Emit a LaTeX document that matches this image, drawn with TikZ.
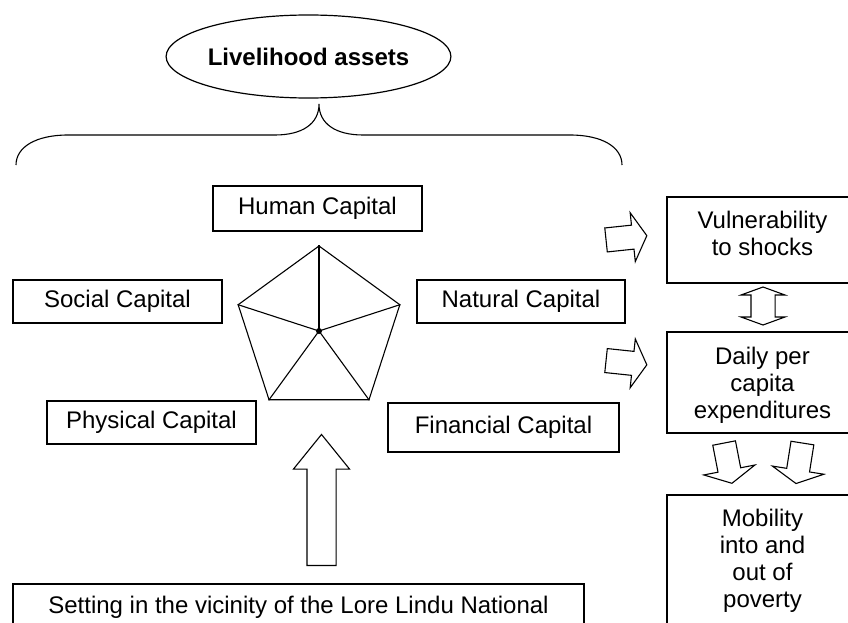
\documentclass[tikz,border=0pt]{standalone}
\usepackage{fontspec}
\setmainfont{Liberation Sans}
\usetikzlibrary{shapes.geometric,shapes.arrows}
\begin{document}
\begin{tikzpicture}[x=1pt,y=-1pt,
  every node/.style={font=\fontsize{24}{27}\selectfont},
  box/.style={draw, line width=1.2pt, inner sep=0pt, align=center},
  txt/.style={align=center, inner sep=0pt},
  blockarrow/.style={single arrow, draw, line width=1.1pt, inner xsep=0pt, fill=white, anchor=tail},
  rarrow/.style={blockarrow, minimum height=41, inner ysep=11.5pt, single arrow head extend=12.5pt, single arrow tip angle=120},
  darrow/.style={blockarrow, minimum height=41, inner ysep=11pt, single arrow head extend=14.5pt, single arrow tip angle=125},
  line/.style={line width=1.1pt}
]
\path[use as bounding box] (0,0) rectangle (848,623);
\clip (0,0) rectangle (848,623);

\node[ellipse, draw, line width=1.2pt, minimum width=283, minimum height=83, inner sep=0pt, font=\bfseries\fontsize{24}{27}\selectfont] (la) at (308.5,56.5) {Livelihood assets};

\draw[line] (16,165) .. controls (16,147) and (36,135) .. (68,135) -- (275,135) .. controls (302,135) and (319,124) .. (319,104) .. controls (319,124) and (336,135) .. (363,135) -- (570,135) .. controls (602,135) and (622,147) .. (622,165);

\node[box, minimum width=209, minimum height=45] (hc) at (317.5,208.5) {Human Capital};
\node[box, minimum width=209, minimum height=43] (sc) at (117.5,301.5) {Social Capital};
\node[box, minimum width=208, minimum height=43] (nc) at (521,301.5) {Natural Capital};
\node[box, minimum width=209, minimum height=43] (pc) at (151.5,422.5) {Physical Capital};
\node[box, minimum width=231, minimum height=49] (fc) at (503.5,427.5) {Financial Capital};

\node[box, minimum width=191, minimum height=86] (vs) at (762.5,240) {};
\node[txt] (vst) at (762.5,233.5) {Vulnerability\\to shocks};
\node[box, minimum width=191, minimum height=101] (dp) at (762.5,382.5) {};
\node[txt] (dpt) at (762.5,385) {Daily per\\capita\\expenditures};
\node[box, minimum width=191, minimum height=133] (mp) at (762.5,561.5) {};
\node[txt] (mpt) at (762.5,561) {Mobility\\into and\\out of\\poverty};
\node[box, minimum width=571, minimum height=46] (st) at (298.5,607) {Setting in the vicinity of the Lore Lindu National};

\node[regular polygon, regular polygon sides=5, minimum size=170, draw, line width=1.1pt, inner sep=0pt] (pg) at (319,331) {};
\foreach \i in {1,...,5} \draw[line] (pg.center) -- (pg.corner \i);
\fill (pg.center) circle (3pt);

\node[rarrow, rotate=6] (a1) at (605.5,240) {};
\node[rarrow, rotate=-6] (a2) at (605.5,360.5) {};
\node[double arrow, draw, line width=1.1pt, inner xsep=0pt, inner ysep=11.5pt, minimum height=38, double arrow head extend=10pt, double arrow tip angle=140, rotate=90] (ud) at (763,306) {};
\node[darrow, rotate=-79] (d1) at (724,442.5) {};
\node[darrow, rotate=-99] (d2) at (802.5,442.5) {};
\node[blockarrow, minimum height=131, inner ysep=14pt, single arrow head extend=13.5pt, single arrow tip angle=78, rotate=90] (up) at (321.5,566) {};
\end{tikzpicture}
\end{document}
